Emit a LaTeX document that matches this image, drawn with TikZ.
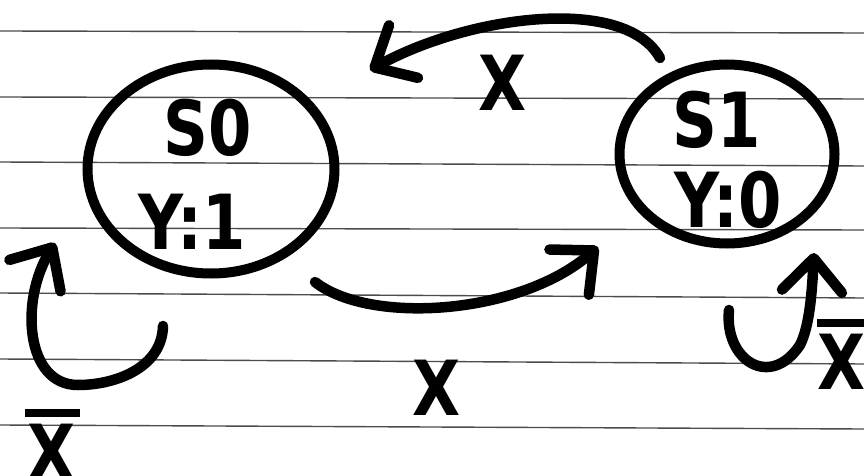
\documentclass[tikz,border=0pt]{standalone}
\usepackage{fontspec}
\setmainfont{DejaVu Sans}
\newfontfamily\hand{DejaVu Sans}[FakeStretch=0.82]
\usetikzlibrary{arrows.meta,shapes.geometric}
\begin{document}
\begin{tikzpicture}[x=1pt,y=-1pt,
  pen/.style={line width=10.5pt,line cap=round,line join=round},
  ruled/.style={line width=1.4pt,black!70},
  statering/.style={ellipse,draw,line width=10pt,inner sep=0pt},
  big/.style={font=\hand\fontsize{76}{80}\selectfont\bfseries,inner sep=0pt},
  barb/.style={-{Straight Barb[length=33pt,width=60pt,line cap=round,line join=round]}}
]
\fill[white] (0,0) rectangle (864,476);
\useasboundingbox (0,0) rectangle (864,476);
% ruled paper
\foreach \a/\b in {31/33,97/99,162/166,228/230,293/298,359/364,425/429}
  \draw[ruled] (0,\a) -- (864,\b);
% states
\node[statering,minimum width=247pt,minimum height=209pt] (s0) at (211,169) {};
\node[statering,minimum width=215pt,minimum height=179pt] (s1) at (727,154) {};
\node[big] (s0name) at (208,128) {S0};
\node[big] (s0out) at (192,222) {Y:1};
\node[big] (s1name) at (717,120) {S1};
\node[big] (s1out) at (728,200) {Y:0};
% connector end points
\coordinate (tA) at (660,58);
\coordinate (tB) at (370,70);
\coordinate (bA) at (315,282);
\coordinate (bB) at (598,247);
\coordinate (lA) at (163,326);
\coordinate (lB) at (55,243);
\coordinate (rA) at (729,310);
\coordinate (rB) at (814,253);
% transitions
\draw[pen,barb] (tA) .. controls (625,-5) and (470,15) .. (tB);
\draw[pen,barb] (bA) .. controls (370,325) and (520,315) .. (bB);
\draw[pen,barb] (lA) .. controls (162,368) and (115,385) .. (78,385)
   .. controls (25,385) and (20,300) .. (lB);
\draw[pen,barb] (rA) .. controls (724,360) and (770,390) .. (800,345)
   .. controls (810,325) and (812,290) .. (rB);
% labels
\node[big] (lx1) at (503,83) {X};
\node[big] (lx2) at (437,388) {X};
\node[big,align=center,anchor=north] (lx3) at (52,409) {\rule{55pt}{8pt}\\[-18pt]X};
\node[big,align=center,anchor=north] (lx4) at (842,319) {\rule{50pt}{8pt}\\[-18pt]X};
\end{tikzpicture}
\end{document}
